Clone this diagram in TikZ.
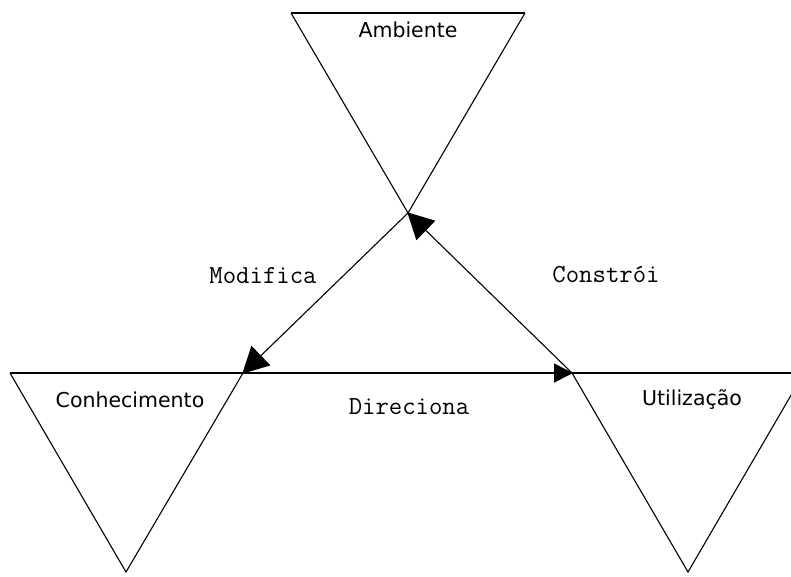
\documentclass[tikz,border=0pt]{standalone}
\usepackage{fontspec}
\newfontfamily\boxfont{DejaVu Sans}
\usetikzlibrary{arrows.meta}

\tikzset{
  edge/.style={draw=black, line width=1.1pt, line join=miter},
  boxlabel/.style={font=\boxfont\fontsize{20.5}{24}\selectfont, inner sep=0pt, anchor=center},
  verblabel/.style={font=\ttfamily\fontsize{26}{30}\selectfont, inner sep=0pt, anchor=center},
  slantarrow/.style={edge, -{Triangle[length=26pt,width=27pt]}, shorten >=-1pt},
  flatarrow/.style={edge, line width=1.5pt, -{Triangle[length=19pt,width=19pt]}, shorten >=-1pt}
}

\begin{document}
\begin{tikzpicture}[x=1pt, y=-1pt]
  \useasboundingbox (0,0) rectangle (791,576);
  \clip (0,0) rectangle (791,576);

  % corners of the three inverted triangles
  \coordinate (ambL) at (291,13);
  \coordinate (ambR) at (525,13);
  \coordinate (ambA) at (408,213);

  \coordinate (conL) at (10,373);
  \coordinate (conR) at (243,373);
  \coordinate (conA) at (126,572);

  \coordinate (utiL) at (572,373);
  \coordinate (utiR) at (804,373);
  \coordinate (utiA) at (688,572);

  % slanted sides
  \draw[edge] (ambL) -- (ambA) -- (ambR);
  \draw[edge] (conL) -- (conA) -- (conR);
  \draw[edge] (utiL) -- (utiA) -- (utiR);

  % top sides
  \draw[edge, line width=1.5pt] (ambL) -- (ambR);
  \draw[edge, line width=1.5pt] (conL) -- (conR);
  \draw[edge, line width=1.5pt] (utiL) -- (utiR);

  % labels inside the triangles
  \node[boxlabel] (amb) at (408,30) {Ambiente};
  \node[boxlabel] (con) at (130,400) {Conhecimento};
  \node[boxlabel] (uti) at (692,400) {Utilização};

  % relations between the triangles
  \draw[slantarrow] (ambA) -- (conR);
  \draw[slantarrow] (utiL) -- (ambA);
  \draw[flatarrow] (conR) -- (utiL);

  % relation labels
  \node[verblabel] (mod) at (263,276) {Modifica};
  \node[verblabel] (cons) at (606,275) {Constrói};
  \node[verblabel] (dir) at (409,407) {Direciona};
\end{tikzpicture}
\end{document}
